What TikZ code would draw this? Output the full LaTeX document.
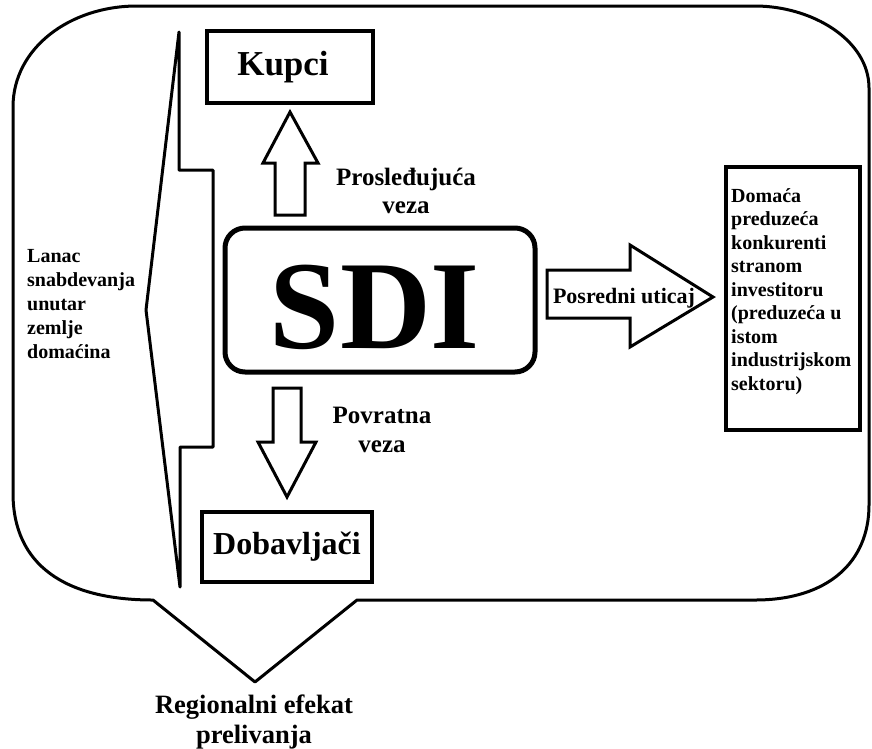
\documentclass[tikz,border=0pt]{standalone}
\usepackage{fontspec}
\setmainfont{Liberation Serif}
\begin{document}
\begin{tikzpicture}[x=1pt,y=-1pt,
  outline/.style={draw=black,line width=3pt,line join=round},
  boxnode/.style={draw=black,line width=3.8pt,inner sep=0pt},
  blockarrow/.style={draw=black,fill=white,line width=3pt,line join=miter},
  lbl/.style={inner sep=0pt,font=\bfseries}]
\useasboundingbox (0,0) rectangle (872,748);
% outer speech bubble
\draw[outline] (137,6) -- (755,6) .. controls (812,6) and (869,40) .. (869,88)
  -- (869,505) .. controls (869,562) and (828,600) .. (755,600)
  -- (357,600) -- (255,682) -- (153,600)
  .. controls (65,600) and (13,565) .. (13,493) -- (13,107)
  .. controls (13,48) and (70,6) .. (137,6) -- cycle;
% left bracket
\draw[outline] (179,32) -- (179,170) -- (213,170) -- (213,447) -- (180,447)
  -- (180,587) -- (146,310) -- cycle;
% boxes
\node[boxnode,minimum width=166pt,minimum height=72pt] (kupci) at (290,67) {};
\node[lbl,anchor=base,font=\bfseries\fontsize{35}{40}\selectfont] (kupcit) at (283,75) {Kupci};
\node[boxnode,minimum width=170pt,minimum height=70pt] (dobav) at (287,547) {};
\node[lbl,anchor=base,font=\bfseries\fontsize{32}{36}\selectfont] (dobavt) at (287,554) {Dobavljači};
\node[draw=black,line width=5pt,rounded corners=20pt,minimum width=310pt,minimum height=144pt,inner sep=0pt] (sdi) at (380,300) {};
\node[lbl,anchor=base,font=\bfseries\fontsize{126}{130}\selectfont] (sdit) at (375,348) {SDI};
\node[boxnode,minimum width=134pt,minimum height=263pt] (dom) at (793,298.5) {};
\node[lbl,anchor=north west,align=left,font=\bfseries\fontsize{20}{23.5}\selectfont] (domt) at (731,188)
  {Domaća\\preduzeća\\konkurenti\\stranom\\investitoru\\(preduzeća u\\istom\\industrijskom\\sektoru)};
% block arrows
\draw[blockarrow] (275,215) -- (275,163) -- (263,163) -- (290,112) -- (318,163) -- (305,163) -- (305,215) -- cycle;
\draw[blockarrow] (273,388) -- (301,388) -- (301,442) -- (316,442) -- (287,497) -- (258,442) -- (273,442) -- cycle;
\draw[blockarrow] (547,270) -- (630,270) -- (630,245) -- (713,297) -- (630,347) -- (630,318) -- (547,318) -- cycle;
\node[lbl,anchor=base,font=\bfseries\fontsize{22}{26}\selectfont] (posr) at (624,303) {Posredni uticaj};
% labels
\node[lbl,anchor=north,align=center,font=\bfseries\fontsize{25}{28}\selectfont] (prosl) at (406,168) {Prosleđujuća\\veza};
\node[lbl,anchor=north,align=center,font=\bfseries\fontsize{25}{29}\selectfont] (povr) at (382,406.5) {Povratna\\veza};
\node[lbl,anchor=north west,align=left,font=\bfseries\fontsize{20}{24}\selectfont] (lanac) at (27,249.5)
  {Lanac\\snabdevanja\\unutar\\zemlje\\domaćina};
\node[lbl,anchor=north,align=center,font=\bfseries\fontsize{26.5}{29.5}\selectfont] (reg) at (254,695) {Regionalni efekat\\prelivanja};
\end{tikzpicture}
\end{document}
